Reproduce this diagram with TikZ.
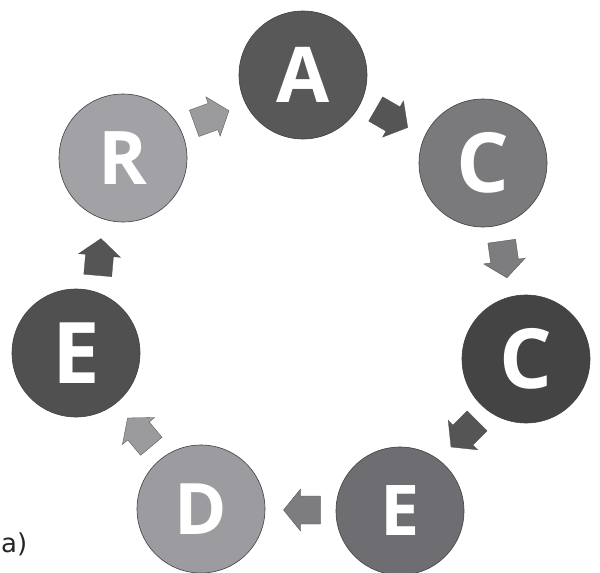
\documentclass[tikz,border=0pt]{standalone}
\usepackage{fontspec}
\newfontfamily\lettfont{Open Sans}
\newfontfamily\labfont{DejaVu Sans}
\usetikzlibrary{calc}
\definecolor{cA}{RGB}{88,88,88}
\definecolor{cC}{RGB}{122,122,124}
\definecolor{cCC}{RGB}{68,68,68}
\definecolor{cE}{RGB}{110,110,114}
\definecolor{cD}{RGB}{156,156,160}
\definecolor{cEE}{RGB}{80,80,80}
\definecolor{cR}{RGB}{162,162,166}
\definecolor{aLight}{RGB}{155,155,158}
\definecolor{aMid}{RGB}{125,125,128}
\definecolor{aDark}{RGB}{85,85,85}
\tikzset{
  disc/.style={circle, minimum size=128pt, inner sep=0pt, text=white,
    draw=black!75, line width=0.6pt},
  lsize/.style={font=\lettfont\bfseries\fontsize{#1}{#1}\selectfont},
  blockarrow/.style={draw=black!70, line width=0.3pt}
}
\newcommand{\barrowpath}{(-20,-14) -- (0,-14) -- (0,-21) -- (17,0) -- (0,21) -- (0,14) -- (-20,14) -- cycle}
\begin{document}
\begin{tikzpicture}[x=1pt,y=1pt]
\useasboundingbox (0,0) rectangle (600,-573);
\node[disc, fill=cA,  lsize=77] (A)  at (303,-75)  {A};
\node[disc, fill=cC,  lsize=83] (C1) at (483,-163) {C};
\node[disc, fill=cCC, lsize=83] (C2) at (526,-359) {C};
\node[disc, fill=cE,  lsize=70] (E1) at (400,-511) {E};
\node[disc, fill=cD,  lsize=71] (D)  at (201,-509) {D};
\node[disc, fill=cEE, lsize=85] (E2) at (76,-353)  {E};
\node[disc, fill=cR,  lsize=74] (R)  at (123,-158) {R};

\coordinate (mRA) at ($(R)!0.5!(A)$);
\coordinate (mAC) at ($(A)!0.5!(C1)$);
\coordinate (mCC) at ($(C1)!0.5!(C2)$);
\coordinate (mCE) at ($(C2)!0.5!(E1)$);
\coordinate (mED) at ($(E1)!0.5!(D)$);
\coordinate (mDE) at ($(D)!0.5!(E2)$);
\coordinate (mER) at ($(E2)!0.5!(R)$);

\filldraw[blockarrow, fill=aLight, shift={(mRA)}, rotate=20]   \barrowpath;
\filldraw[blockarrow, fill=aDark,  shift={(mAC)}, rotate=-30]  \barrowpath;
\filldraw[blockarrow, fill=aMid,   shift={(mCC)}, rotate=-82]  \barrowpath;
\filldraw[blockarrow, fill=aDark,  shift={(mCE)}, rotate=-135] \barrowpath;
\filldraw[blockarrow, fill=aMid,   shift={(mED)}, rotate=180]  \barrowpath;
\filldraw[blockarrow, fill=aLight, shift={(mDE)}, rotate=130]  \barrowpath;
\filldraw[blockarrow, fill=aDark,  shift={(mER)}, rotate=85]   \barrowpath;

\node[anchor=west, inner sep=0pt, text=black!85, font=\labfont\fontsize{26}{26}\selectfont] (lab) at (1,-544) {a)};
\end{tikzpicture}
\end{document}
